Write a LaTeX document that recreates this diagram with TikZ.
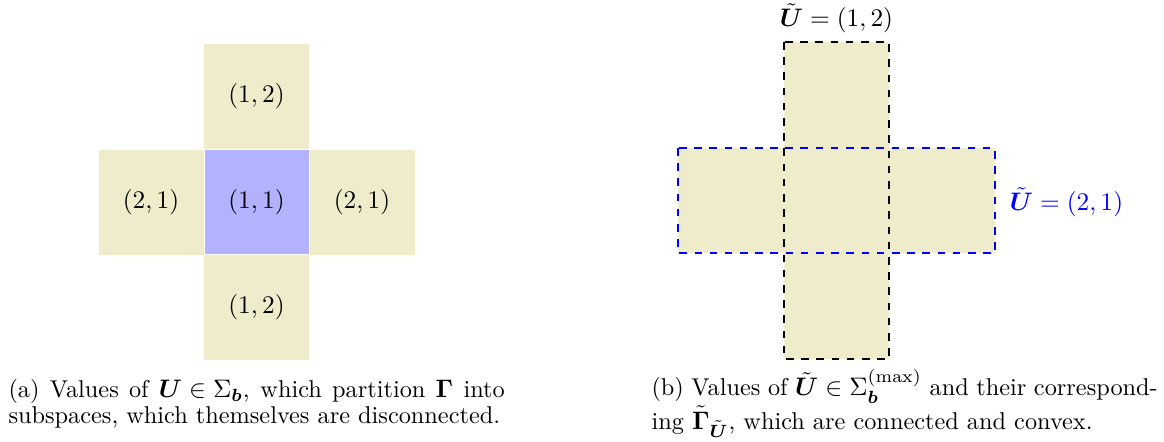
\documentclass[tikz,border=0pt]{standalone}
\usepackage{amsmath,amssymb}
\tikzset{
  cell/.style={minimum size=41.7pt, inner sep=0pt, fill=olive!15, draw=white, line width=0.2pt},
  caption/.style={anchor=north west, inner sep=0pt, align=left, font=\fontsize{9.6}{10}\selectfont}
}
\begin{document}
\begin{tikzpicture}[x=0.395pt,y=-0.395pt]
\useasboundingbox (0,0) rectangle (1164,441);
% left: partition
\node[cell,fill=blue!30] (c11) at (256.5,202) {$(1,1)$};
\node[cell] (t12) at (256.5,96.5) {$(1,2)$};
\node[cell] (b12) at (256.5,307.5) {$(1,2)$};
\node[cell] (l21) at (151,202) {$(2,1)$};
\node[cell] (r21) at (362,202) {$(2,1)$};
% right: max subspaces
\fill[olive!15] (784,42) rectangle (889,359);
\fill[olive!15] (678,148) rectangle (995,253);
\draw[thick,dashed] (784,42) rectangle (889,359);
\draw[thick,dashed,blue] (678,148) rectangle (995,253);
\node (u12) at (836.5,18) {$\tilde{\boldsymbol U}=(1,2)$};
\node[blue,anchor=west] (u21) at (1001,202) {$\tilde{\boldsymbol U}=(2,1)$};
% captions
\node[caption] (capa) at (8,379) {\makebox[196pt][s]{(a) Values of ${\boldsymbol U\in\Sigma_{\boldsymbol b}}$, which partition $\boldsymbol\Gamma$ into}\\
subspaces, which themselves are disconnected.};
\node[caption] (capb) at (651,369) {\makebox[200pt][s]{(b) Values of ${\tilde{\boldsymbol U}\in\Sigma_{\boldsymbol b}^{(\max)}}$ and their correspond-}\\
ing $\tilde{\boldsymbol\Gamma}_{\tilde{\boldsymbol U}}$, which are connected and convex.};
\end{tikzpicture}
\end{document}
